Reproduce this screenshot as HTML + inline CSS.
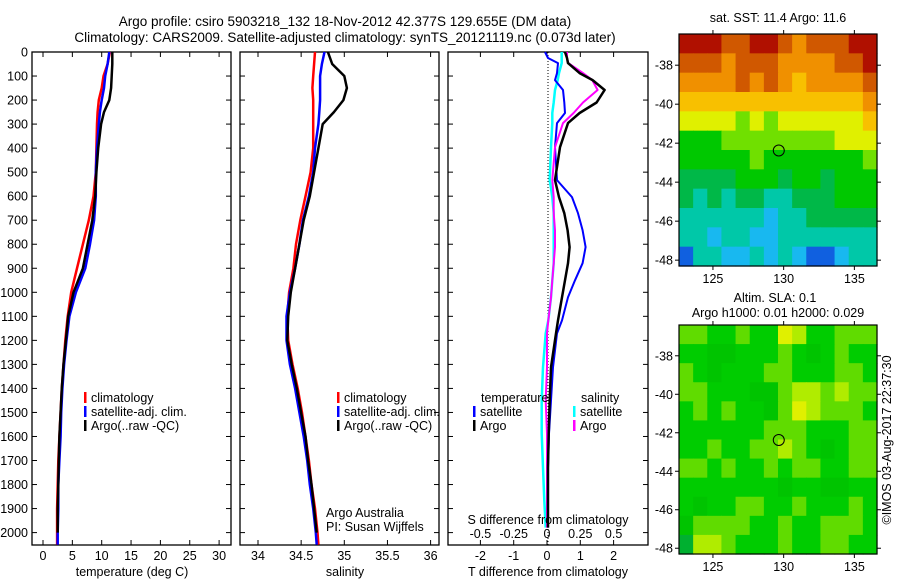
<!DOCTYPE html>
<html><head><meta charset="utf-8"><style>
body{margin:0;background:#fff;}
svg{display:block;font-family:"Liberation Sans",sans-serif;font-size:12.5px;}
</style></head><body>
<svg id="c" width="900" height="580"></svg>
<script>
// ---------- data ----------
const depths = [0,50,100,150,200,250,300,400,500,600,700,800,900,1000,1100,1200,1300,1400,1500,1600,1700,1800,1900,2000,2050];
const tempClim = [11.4,11.0,10.3,10.0,9.5,9.3,9.2,9.1,9.0,8.6,7.8,6.8,5.8,4.8,4.2,3.8,3.5,3.2,3.0,2.8,2.6,2.5,2.4,2.4,2.4];
const tempSat  = [11.3,11.0,10.6,10.4,10.0,9.7,9.5,9.2,9.0,9.0,8.7,8.0,7.2,5.6,4.5,4.0,3.6,3.3,3.1,3.0,2.8,2.6,2.6,2.5,2.5];
const tempArgo = [11.8,11.8,11.7,11.6,11.3,10.4,9.9,9.4,9.1,8.9,8.4,7.6,6.8,5.2,4.3,3.9,3.5,3.2,3.0,2.8,2.7,2.6,2.5,2.5,null];
const salClim = [34.66,34.65,34.64,34.63,34.64,34.64,34.64,34.64,34.61,34.55,34.49,34.44,34.41,34.36,34.34,34.35,34.40,34.46,34.51,34.55,34.59,34.62,34.66,34.69,34.70];
const salSat  = [34.77,34.74,34.72,34.72,34.72,34.71,34.70,34.66,34.64,34.59,34.52,34.48,34.43,34.37,34.33,34.33,34.37,34.43,34.48,34.53,34.57,34.60,34.64,34.67,34.68];
const salArgo = [34.81,34.86,35.00,35.03,34.99,34.88,34.75,34.70,34.65,34.60,34.53,34.48,34.43,34.38,34.35,34.34,34.39,34.45,34.50,34.55,34.58,34.62,34.65,34.68,null];
const diffDepths = [0,25,46,88,117,158,210,254,296,396,533,604,671,742,812,879,950,1021,1117,1171,1312,1450,1588,1729,1867,1979];
const dTSat  = [-0.06,0.03,0.33,0.30,0.24,0.48,0.52,0.54,0.30,0.24,0.30,0.75,0.93,1.07,1.16,1.07,0.84,0.63,0.45,0.30,0.18,0.12,0.06,0.03,0.03,0.03];
const dTArgo = [0.54,0.60,0.63,0.98,1.37,1.73,1.49,0.98,0.63,0.39,0.24,0.36,0.52,0.62,0.68,0.63,0.54,0.45,0.33,0.27,0.12,0.08,0.05,0.03,0.03,0.03];
const dSSat  = [0.11,0.11,0.11,0.09,0.08,0.06,0.05,0.04,0.04,0.03,0.02,0.04,0.05,0.05,0.05,0.05,0.04,0.03,0.01,-0.01,-0.03,-0.04,-0.04,-0.03,-0.02,-0.01];
const dSArgo = [0.15,0.15,0.16,0.27,0.34,0.38,0.27,0.20,0.12,0.06,0.04,0.05,0.05,0.06,0.06,0.05,0.04,0.03,0.01,0.00,0.00,-0.01,0.00,0.00,0.00,0.00];
const depthTicks = [0,100,200,300,400,500,600,700,800,900,1000,1100,1200,1300,1400,1500,1600,1700,1800,1900,2000];
const tempTicks = [0,5,10,15,20,25,30];
const salTicks = [34,34.5,35,35.5,36];
const salTickLabels = ["34","34.5","35","35.5","36"];
const dTTicks = [-2,-1,0,1,2];
const dSTicks = [-0.5,-0.25,0,0.25,0.5];
const dSTickLabels = ["-0.5","-0.25","0","0.25","0.5"];
const lonTicks = [125,130,135];
const latTicks = [-38,-40,-42,-44,-46,-48];
// map grids: 14 cols (122.6..136.6E), 12 rows (-36.4..-48.3), colour level 0..10
const sstGrid = [
[10,10,10,9,9,10,10,9,8,9,9,9,10,10],
[9,9,9,8,9,9,9,8,8,8,8,9,9,10],
[8,8,8,8,9,8,9,8,7,8,8,8,8,9],
[7,7,7,7,7,7,7,7,7,7,7,7,7,8],
[6,6,6,6,5,6,5,6,6,6,6,6,6,7],
[4,4,4,5,5,5,5,5,5,5,5,6,6,6],
[4,4,4,4,4,5,4,4,4,4,4,4,4,5],
[3,3,3,3,4,4,4,3,4,4,3,4,4,4],
[3,2,3,2,3,3,2,2,3,3,3,4,4,4],
[2,2,2,2,2,2,1,2,2,3,3,3,3,3],
[2,2,1,2,2,1,1,2,2,2,2,2,2,2],
[0,2,2,1,1,2,1,2,1,0,0,1,2,2]];
const slaGrid = [
[5,5,4,4,5,4,4,7,6,4,4,5,5,5],
[4,4,3,3,4,4,4,5,4,3,4,5,4,4],
[5,4,3,4,4,4,5,5,4,4,4,5,5,4],
[5,5,4,4,4,3,3,5,6,6,5,6,5,5],
[4,5,4,5,4,4,3,5,7,6,5,5,5,4],
[4,4,4,4,4,4,5,5,5,4,4,4,5,5],
[4,4,5,4,4,5,5,6,5,4,3,4,5,5],
[5,5,4,5,4,4,5,4,5,5,4,4,5,5],
[4,4,4,4,4,4,4,3,4,4,3,3,4,4],
[4,3,4,4,5,5,4,4,5,4,4,4,5,4],
[3,5,5,5,5,4,4,5,4,4,5,5,5,4],
[2,6,6,5,4,4,4,5,4,4,5,5,4,4]];
const argoLon = 129.655, argoLat = -42.377;

// ---------- helpers ----------
const svg = document.getElementById('c');
const NS = 'http://www.w3.org/2000/svg';
function el(tag, attrs, parent){const e=document.createElementNS(NS,tag);for(const k in attrs)e.setAttribute(k,attrs[k]);(parent||svg).appendChild(e);return e;}
function txt(x,y,s,anchor,parent){const t=el('text',{x:x,y:y,'text-anchor':anchor||'middle',fill:'#000'},parent);t.textContent=s;return t;}

const PT=52, PB=545;
const yD = d => PT + d*0.2403;
const panels = [{l:32,r:231},{l:240,r:439},{l:448,r:648}];
const xT = v => 43 + v*5.87;
const xS = v => 258 + (v-34)*86.3;
const xDT = v => 547 + v*33.3;
const xDS = v => 547 + v*133.2;

// frames and depth ticks
panels.forEach((p,i)=>{
  const g = el('g',{});
  
  
  const r = el('rect',{x:p.l,y:PT,width:p.r-p.l,height:PB-PT,fill:'none',stroke:'#000','stroke-width':1.3},g);
  
  
  depthTicks.forEach(d=>{
    el('line',{x1:p.l,x2:p.l+5,y1:yD(d),y2:yD(d),stroke:'#000'},g);
    el('line',{x1:p.r,x2:p.r-5,y1:yD(d),y2:yD(d),stroke:'#000'},g);
  });
});
const dl = el('g',{});


depthTicks.forEach(d=>txt(28,yD(d)+4.5,String(d),'end',dl));

function xticks(xs, fn, labels, yLab, pl){
  const g = el('g',{});
  
  
  xs.forEach((v,i)=>{
    const x=fn(v);
    el('line',{x1:x,x2:x,y1:PB,y2:PB-5,stroke:'#000'},g);
    if(pl!==false) el('line',{x1:x,x2:x,y1:PT,y2:PT+5,stroke:'#000'},g);
    if(labels) txt(x,yLab,labels[i],'middle',g);
  });
  return g;
}
xticks(tempTicks,xT,tempTicks.map(String),560);
xticks(salTicks,xS,salTickLabels,560);
xticks(dTTicks,xDT,dTTicks.map(String),560);
const sg = el('g',{});


dSTicks.forEach((v,i)=>txt(xDS(v),538,dSTickLabels[i],'middle',sg));

function line(xs, ys, fx, color, w, name){
  let d='';
  xs.forEach((v,i)=>{ if(v===null) return; d += (d?'L':'M') + fx(v).toFixed(1)+','+yD(ys[i]).toFixed(1); });
  const p = el('path',{d:d,fill:'none',stroke:color,'stroke-width':w,'stroke-linejoin':'round'});
  
  
}
line(tempClim,depths,xT,'#f00',2.5,'temp-climatology-line');
line(tempSat,depths,xT,'#00f',2.5,'temp-satellite-line');
line(tempArgo,depths,xT,'#000',2.5,'temp-argo-line');
line(salClim,depths,xS,'#f00',2.5,'sal-climatology-line');
line(salSat,depths,xS,'#00f',2.5,'sal-satellite-line');
line(salArgo,depths,xS,'#000',2.5,'sal-argo-line');
const zl = el('line',{x1:xDT(0)+1,x2:xDT(0)+1,y1:PT,y2:PB,stroke:'#000','stroke-dasharray':'1,2'});


line(dSSat,diffDepths,xDS,'#0ff',2.5,'sdiff-satellite-line');
line(dTSat,diffDepths,xDT,'#00f',2,'tdiff-satellite-line');
line(dSArgo,diffDepths,xDS,'#f0f',2,'sdiff-argo-line');
line(dTArgo,diffDepths,xDT,'#000',2.5,'tdiff-argo-line');

// legends
function legend(x,y,entries,name){
  const g = el('g',{});
  
  
  entries.forEach((e,i)=>{
    const yy=y+i*14;
    el('rect',{x:x,y:yy-10,width:2.5,height:11,fill:e[1]},g);
    txt(x+7,yy,e[0],'start',g);
  });
}
legend(84,402,[['climatology','#f00'],['satellite-adj. clim.','#00f'],['Argo(..raw -QC)','#000']],'temp-legend');
legend(337,402,[['climatology','#f00'],['satellite-adj. clim.','#00f'],['Argo(..raw -QC)','#000']],'sal-legend');
txt(481,402,'temperature','start');
txt(581,402,'salinity','start');
legend(473,416,[['satellite','#00f'],['Argo','#000']],'tdiff-legend');
legend(573,416,[['satellite','#0ff'],['Argo','#f0f']],'sdiff-legend');
txt(326,517,'Argo Australia','start');
txt(326,531,'PI: Susan Wijffels','start');
txt(548,524,'S difference from climatology');
txt(132,576,'temperature (deg C)');
txt(345,576,'salinity');
txt(548,576,'T difference from climatology');
const t1=txt(345,26,'Argo profile: csiro 5903218_132 18-Nov-2012 42.377S 129.655E (DM data)');
t1.setAttribute('font-size','13.5');
const t2=txt(345,42,'Climatology: CARS2009. Satellite-adjusted climatology: synTS_20121119.nc (0.073d later)');
t2.setAttribute('font-size','13.5');

// maps
const palSST = ['#1060e0','#18b8f0','#00c8a8','#00b848','#00c800','#70e000','#e0f000','#f8c000','#f09000','#d05800','#b01000'];
const palSLA = ['#008080','#00c0b0','#00b030','#00c400','#00cc00','#60dc00','#b0ec00','#e0f000'];
function map(top,bot,grid,pal,name){
  const L=679,R=877;
  const g = el('g',{});
  
  
  const lon0=122.6, lon1=136.6, lat0=-36.4, lat1=-48.3;
  const xL = v => L + (v-lon0)/(lon1-lon0)*(R-L);
  const yL = v => top + (v-lat0)/(lat1-lat0)*(bot-top);
  const nr=grid.length, nc=grid[0].length;
  grid.forEach((row,r)=>row.forEach((v,c)=>{
    const x0=L+(R-L)*c/nc, y0=top+(bot-top)*r/nr;
    const cell = el('rect',{x:x0,y:y0,width:(R-L)/nc+0.6,height:(bot-top)/nr+0.6,fill:pal[v]},g);
    
    
  }));
  el('rect',{x:L,y:top,width:R-L,height:bot-top,fill:'none',stroke:'#000','stroke-width':1.2},g);
  lonTicks.forEach(v=>{
    el('line',{x1:xL(v),x2:xL(v),y1:bot,y2:bot+4,stroke:'#000'},g);
    el('line',{x1:xL(v),x2:xL(v),y1:top,y2:top-4,stroke:'#000'},g);
    txt(xL(v),bot+17,String(v),'middle',g);
  });
  latTicks.forEach(v=>{
    el('line',{x1:L,x2:L-4,y1:yL(v),y2:yL(v),stroke:'#000'},g);
    el('line',{x1:R,x2:R+4,y1:yL(v),y2:yL(v),stroke:'#000'},g);
    txt(L-6,yL(v)+4.5,String(v),'end',g);
  });
  const m = el('circle',{cx:xL(argoLon),cy:yL(argoLat),r:5.5,fill:'none',stroke:'#000'},g);
  
  
}
map(34,266,sstGrid,palSST,'sst-map');
map(325,554,slaGrid,palSLA,'sla-map');
txt(778,22,'sat. SST: 11.4 Argo: 11.6');
txt(775,302,'Altim. SLA: 0.1');
txt(778,317,'Argo h1000: 0.01 h2000: 0.029');
const ro=txt(0,0,'©IMOS 03-Aug-2017 22:37:30');
ro.setAttribute('transform','translate(891,440) rotate(-90)');
</script>
</body></html>
